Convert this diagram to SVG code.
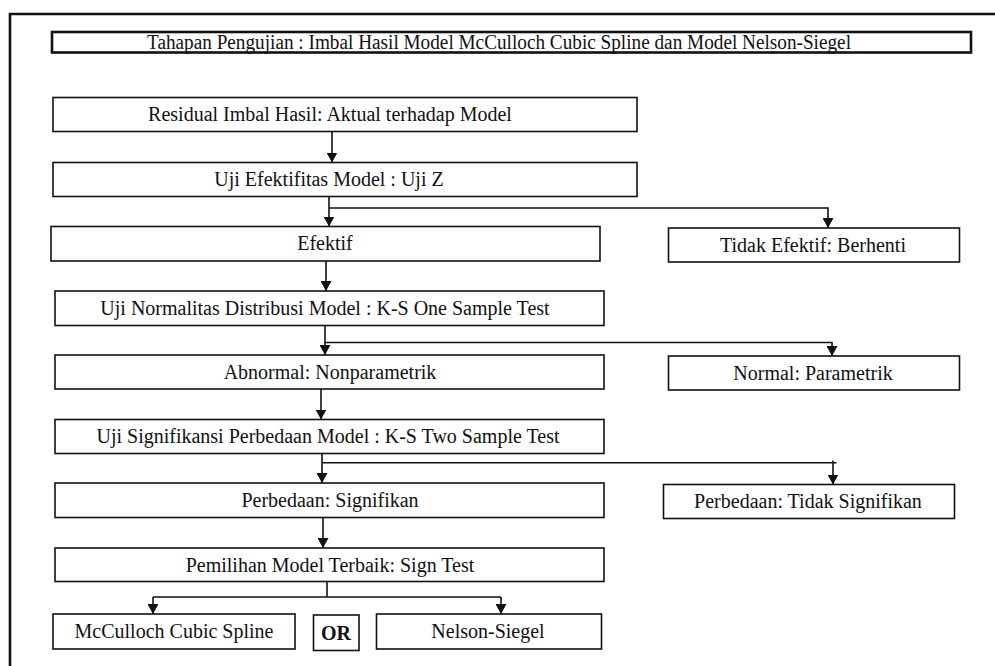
<svg xmlns="http://www.w3.org/2000/svg" width="995" height="666" viewBox="0 0 995 666">
<defs>
<style>
.box{fill:#fff;stroke:#111;stroke-width:1.6}
.t{font-family:"Liberation Serif","Times New Roman",serif;font-size:20px;fill:#111;text-anchor:middle}
.title{font-size:20.5px}
.b{font-weight:bold}
.c{fill:none;stroke:#111;stroke-width:1.6}
</style>
<marker id="ah" markerUnits="userSpaceOnUse" markerWidth="11" markerHeight="11" refX="10" refY="5.5" orient="auto">
<path d="M0,0 L10,5.5 L0,11 z" fill="#111"/>
</marker>
</defs>
<rect width="995" height="666" fill="#fff"/>
<g id="frame">
<path d="M10,666 V14 H995" fill="none" stroke="#111" stroke-width="2.6"/>
</g>
<g id="title">
<rect x="52" y="32" width="919" height="20.5" fill="#fff" stroke="#111" stroke-width="2.6"/>
<text class="t title" x="499" y="48.5" textLength="704" lengthAdjust="spacingAndGlyphs">Tahapan Pengujian : Imbal Hasil Model McCulloch Cubic Spline dan Model Nelson-Siegel</text>
</g>
<g id="residual"><rect class="box" x="53" y="97.5" width="584" height="34"/><text class="t" x="330" y="121">Residual Imbal Hasil: Aktual terhadap Model</text></g>
<g id="ujiz"><rect class="box" x="53" y="162.5" width="584" height="34"/><text class="t" x="329" y="186">Uji Efektifitas Model : Uji Z</text></g>
<g id="efektif"><rect class="box" x="51" y="226.5" width="549" height="34.5"/><text class="t" x="325" y="250">Efektif</text></g>
<g id="tidakefektif"><rect class="box" x="668.5" y="228" width="291" height="34"/><text class="t" x="813" y="251.5">Tidak Efektif: Berhenti</text></g>
<g id="normalitas"><rect class="box" x="55" y="291" width="549" height="34.5"/><text class="t" x="325" y="315">Uji Normalitas Distribusi Model : K-S One Sample Test</text></g>
<g id="abnormal"><rect class="box" x="55" y="355" width="549" height="34"/><text class="t" x="330" y="378.5">Abnormal: Nonparametrik</text></g>
<g id="normal"><rect class="box" x="668.5" y="356" width="291" height="34"/><text class="t" x="813" y="379.5">Normal: Parametrik</text></g>
<g id="signifikansi"><rect class="box" x="55" y="419.5" width="549" height="34"/><text class="t" x="328" y="443">Uji Signifikansi Perbedaan Model : K-S Two Sample Test</text></g>
<g id="signifikan"><rect class="box" x="55" y="483" width="549" height="34.5"/><text class="t" x="330" y="507">Perbedaan: Signifikan</text></g>
<g id="tidaksignifikan"><rect class="box" x="663.5" y="484.5" width="291" height="34"/><text class="t" x="808" y="508">Perbedaan: Tidak Signifikan</text></g>
<g id="signtest"><rect class="box" x="55" y="548" width="549" height="33.5"/><text class="t" x="330" y="571.5">Pemilihan Model Terbaik: Sign Test</text></g>
<g id="mcculloch"><rect class="box" x="53" y="614" width="242" height="35"/><text class="t" x="174" y="638">McCulloch Cubic Spline</text></g>
<g id="or"><rect class="box" x="313.5" y="615" width="45.5" height="35.5"/><text class="t b" x="336" y="639.5">OR</text></g>
<g id="nelson"><rect class="box" x="376.5" y="614" width="225" height="35"/><text class="t" x="488" y="638">Nelson-Siegel</text></g>
<g id="connectors">
<path class="c" d="M332,131.5 V162.5" marker-end="url(#ah)"/>
<path class="c" d="M329,196.5 V226.5" marker-end="url(#ah)"/>
<path class="c" d="M329,208 H828 V228" marker-end="url(#ah)"/>
<path class="c" d="M326,261 V291" marker-end="url(#ah)"/>
<path class="c" d="M325,325.5 V355" marker-end="url(#ah)"/>
<path class="c" d="M325,342.5 H832 V356" marker-end="url(#ah)"/>
<path class="c" d="M321,389 V419.5" marker-end="url(#ah)"/>
<path class="c" d="M322,453.5 V483" marker-end="url(#ah)"/>
<path class="c" d="M322,462.7 H836.5"/>
<path class="c" d="M833,460.5 V484.5" marker-end="url(#ah)"/>
<path class="c" d="M323,517.5 V548" marker-end="url(#ah)"/>
<path class="c" d="M327,581.5 V597"/>
<path class="c" d="M153,597 H501"/>
<path class="c" d="M153,597 V614" marker-end="url(#ah)"/>
<path class="c" d="M501,597 V614" marker-end="url(#ah)"/>
</g>
</svg>
